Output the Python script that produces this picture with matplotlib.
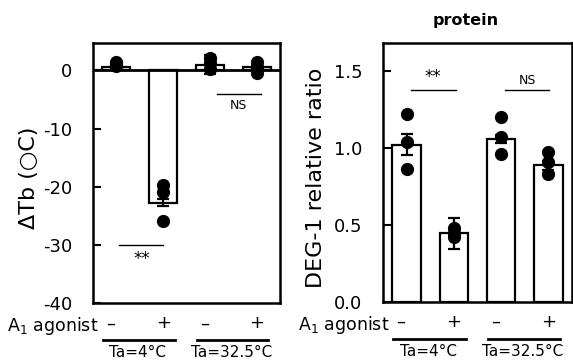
import matplotlib
matplotlib.use("Agg")
import matplotlib.pyplot as plt
import matplotlib.transforms as mtransforms

plt.rcParams['font.family'] = ['DejaVu Sans']
plt.rcParams['axes.unicode_minus'] = False

# data
agonist = ['–', '+', '–', '+']
temp_groups = ['Ta=4°C', 'Ta=32.5°C']

tb_mean = [0.6, -22.8, 1.0, 0.6]
tb_sem = [0.3, 0.6, 1.7, 0.5]
tb_points = [[1.4, 1.1, 0.8], [-19.7, -21.0, -25.9], [2.1, 1.2, 0.2], [1.5, 0.6, -0.45]]
tb_ticks = [0, -10, -20, -30, -40]

deg_mean = [1.02, 0.445, 1.057, 0.887]
deg_sem = [0.067, 0.098, 0.025, 0.03]
deg_points = [[1.22, 1.04, 0.86], [0.48, 0.45, 0.42], [1.20, 1.07, 0.96], [0.97, 0.91, 0.83]]
deg_ticks = [0.0, 0.5, 1.0, 1.5]

W, H = 573, 361
fig = plt.figure(figsize=(W / 100, H / 100), dpi=100)


def px_axes(x0, y0, x1, y1):
    return fig.add_axes([x0 / W, 1 - y1 / H, (x1 - x0) / W, (y1 - y0) / H])


def draw_panel(ax, means, sems, points, ylim, yticks, fmt, lab_x):
    xs = list(range(len(means)))
    ax.bar(xs, means, width=0.6, color='white', edgecolor='black', linewidth=1.6, zorder=2)
    for x, pts in zip(xs, points):
        ax.plot([x] * len(pts), pts, 'o', color='black', markersize=8.5, zorder=3)
    ax.errorbar(xs, means, yerr=sems, fmt='none', ecolor='black', elinewidth=1.6,
                capsize=4.5, capthick=1.6, zorder=4)
    ax.set_xlim(-0.5, 3.5)
    ax.set_ylim(*ylim)
    ax.set_xticks([])
    ax.set_yticks(yticks)
    ax.set_yticklabels([fmt.format(t) for t in yticks])
    ax.tick_params(axis='y', direction='in', length=6, width=1.5, pad=15, labelsize=13)
    for s in ax.spines.values():
        s.set_linewidth(1.8)

    # group labels under axis
    trans = mtransforms.blended_transform_factory(ax.transData, ax.transAxes)
    for x, sign in zip(xs, agonist):
        ax.text(x - (0.12 if sign == '–' else 0), -0.078, sign, transform=trans,
                ha='center', va='center', fontsize=13)
    for i, name in enumerate(temp_groups):
        a, b = 2 * i, 2 * i + 1
        ax.plot([a - 0.28, b + 0.25], [-0.142, -0.142], color='black', lw=2,
                transform=trans, clip_on=False)
        ax.text((a + b) / 2 - 0.04, -0.19, name, transform=trans, ha='center',
                va='center', fontsize=11)
    ax.text(lab_x, -0.088, 'A$_1$ agonist', transform=ax.transAxes, ha='right',
            va='center', fontsize=12.5)


# left panel: body temperature change
ax1 = px_axes(93, 43, 280, 303)
draw_panel(ax1, tb_mean, tb_sem, tb_points, (-40, 4.7), tb_ticks, '{:d}', 0.027)
ax1.axhline(0, color='black', lw=2, zorder=5)
ax1.set_ylabel('ΔTb (○C)', fontsize=16)
ax1.yaxis.set_label_coords(-0.29, 0.48)
ax1.plot([0.06, 0.99], [-30.1, -30.1], color='black', lw=1)
ax1.text(0.54, -32.4, '**', ha='center', va='center', fontsize=12)
ax1.plot([2.15, 3.1], [-4.0, -4.0], color='black', lw=1)
ax1.text(2.62, -6.1, 'NS', ha='center', va='center', fontsize=9)

# right panel: DEG-1 protein
ax2 = px_axes(383, 43, 572, 302)
draw_panel(ax2, deg_mean, deg_sem, deg_points, (0, 1.68), deg_ticks, '{:.1f}', 0.035)
ax2.set_ylabel('DEG-1 relative ratio', fontsize=16)
ax2.yaxis.set_label_coords(-0.3, 0.48)
ax2.set_title('protein', fontsize=11.5, fontweight='bold', x=0.44, pad=13)
ax2.plot([0.1, 1.04], [1.378, 1.378], color='black', lw=1)
ax2.text(0.56, 1.46, '**', ha='center', va='center', fontsize=12)
ax2.plot([2.09, 3.02], [1.378, 1.378], color='black', lw=1)
ax2.text(2.55, 1.44, 'NS', ha='center', va='center', fontsize=9)

fig.savefig('out.png', dpi=100)
